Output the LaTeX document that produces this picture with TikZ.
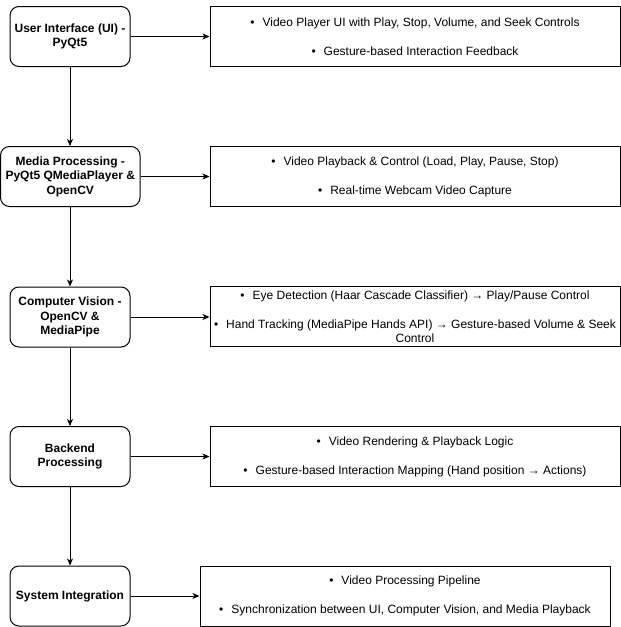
\documentclass[tikz,border=0pt]{standalone}
\usepackage{fontspec}
\setmainfont{Liberation Sans}
\usetikzlibrary{arrows.meta}
\begin{document}
\begin{tikzpicture}[x=1pt,y=-1pt,
  every node/.style={font=\fontsize{12}{14.4}\selectfont, inner sep=0pt},
  stage/.style={draw, line width=1pt, rounded corners=9pt, minimum width=120pt, minimum height=60pt, align=center, font=\fontsize{12}{14.4}\selectfont\bfseries},
  detail/.style={draw, line width=1pt, minimum width=410pt, minimum height=60pt, align=center},
  conn/.style={line width=1pt, -{Stealth[length=7pt,width=6pt,inset=2pt]}}
]
\useasboundingbox (0,0) rectangle (621,627);
\newcommand{\bl}{•\hspace{8pt}}

\node[stage] (s1) at (70,36.5) {User Interface (UI) -\\PyQt5};
\node[stage, minimum width=139.5pt] (s2) at (70.25,176.5) {Media Processing -\\PyQt5 QMediaPlayer \&\\OpenCV};
\node[stage] (s3) at (70,317) {Computer Vision -\\OpenCV \&\\MediaPipe};
\node[stage] (s4) at (70,456.5) {Backend\\Processing};
\node[stage] (s5) at (70,596) {System Integration};

\node[detail] (d1) at (415,36.5) {\bl Video Player UI with Play, Stop, Volume, and Seek Controls\\[14.6pt]\bl Gesture-based Interaction Feedback};
\node[detail] (d2) at (415,176.5) {\bl Video Playback \& Control (Load, Play, Pause, Stop)\\[14.6pt]\bl Real-time Webcam Video Capture};
\node[detail] (d3) at (415,316.5) {\bl Eye Detection (Haar Cascade Classifier) → Play/Pause Control\\[14.6pt]\bl Hand Tracking (MediaPipe Hands API) → Gesture-based Volume \& Seek\\Control};
\node[detail] (d4) at (415,456.5) {\bl Video Rendering \& Playback Logic\\[14.6pt]\bl Gesture-based Interaction Mapping (Hand position → Actions)};
\node[detail] (d5) at (405,596) {\bl Video Processing Pipeline\\[14.6pt]\bl Synchronization between UI, Computer Vision, and Media Playback};

\foreach \i in {1,...,5} {\draw[conn] (s\i.east) -- (s\i.east -| d\i.west);}
\draw[conn] (s1.south) -- (s1.south |- s2.north);
\draw[conn] (s1.south |- s2.south) -- (s1.south |- s3.north);
\draw[conn] (s3.south) -- (s4.north);
\draw[conn] (s4.south) -- (s5.north);
\end{tikzpicture}
\end{document}
